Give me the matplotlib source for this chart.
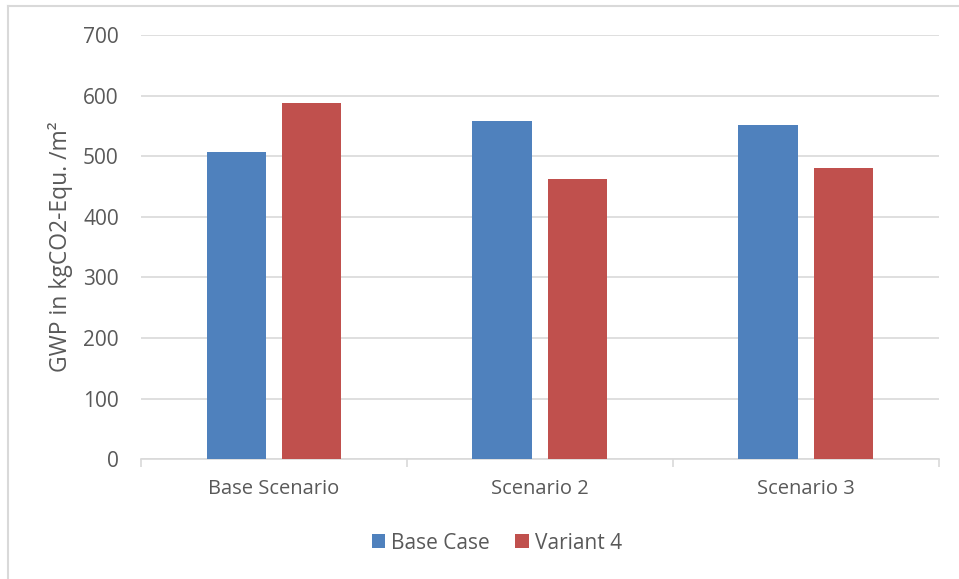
import numpy as np
import matplotlib.pyplot as plt
from matplotlib.lines import Line2D

scenarios = ["Base Scenario", "Scenario 2", "Scenario 3"]
base_case = [507, 558, 551]
variant_4 = [587, 463, 480]
series_names = ["Base Case", "Variant 4"]

BLUE = "#4f81bd"
RED = "#c0504d"
GRID = "#d9d9d9"
TEXT = "#595959"

plt.rcParams["font.family"] = ["Open Sans", "DejaVu Sans"]


def main():
    fig = plt.figure(figsize=(9.59, 5.79), dpi=100)
    ax = fig.add_axes([0.147, 0.2067, 0.832, 0.733])

    x = np.arange(len(scenarios))
    width = 0.223
    off = 0.142
    ax.bar(x - off, base_case, width, color=BLUE, label=series_names[0], zorder=3)
    ax.bar(x + off, variant_4, width, color=RED, label=series_names[1], zorder=3)

    ax.set_xlim(-0.5, len(scenarios) - 0.5)
    ax.set_ylim(0, 700)
    ax.set_yticks(np.arange(0, 701, 100))
    ax.yaxis.grid(True, color=GRID, linewidth=1.2, zorder=0)
    ax.set_axisbelow(True)

    for side in ["top", "right", "left"]:
        ax.spines[side].set_visible(False)
    ax.spines["bottom"].set_color(GRID)
    ax.spines["bottom"].set_linewidth(1.2)

    ax.set_xticks(x)
    ax.set_xticklabels(scenarios)
    ax.tick_params(axis="x", length=0, pad=14, labelsize=14.5, labelcolor=TEXT)
    ax.tick_params(axis="y", length=0, pad=16, labelsize=15, labelcolor=TEXT)
    # category separators below the axis line
    ax.set_xticks(np.arange(-0.5, len(scenarios)), minor=True)
    ax.tick_params(axis="x", which="minor", length=6, width=1.2, color=GRID)

    ax.set_ylabel("GWP in kgCO2-Equ. /m²", fontsize=16.5, color=TEXT, labelpad=7)

    ax.legend(loc="center", bbox_to_anchor=(0.518, 0.062), bbox_transform=fig.transFigure,
              ncol=2, frameon=False, fontsize=15, labelcolor=TEXT,
              handlelength=0.65, handleheight=0.65, handletextpad=0.3, columnspacing=1.2)

    # light frame around the chart area
    fig.add_artist(Line2D([8 / 959, 8 / 959], [0, 1 - 5.5 / 579], transform=fig.transFigure,
                          color=GRID, linewidth=1.5))
    fig.add_artist(Line2D([8 / 959, 1], [1 - 5.5 / 579, 1 - 5.5 / 579], transform=fig.transFigure,
                          color=GRID, linewidth=1.5))

    fig.savefig("out.png", dpi=100)


if __name__ == "__main__":
    main()
